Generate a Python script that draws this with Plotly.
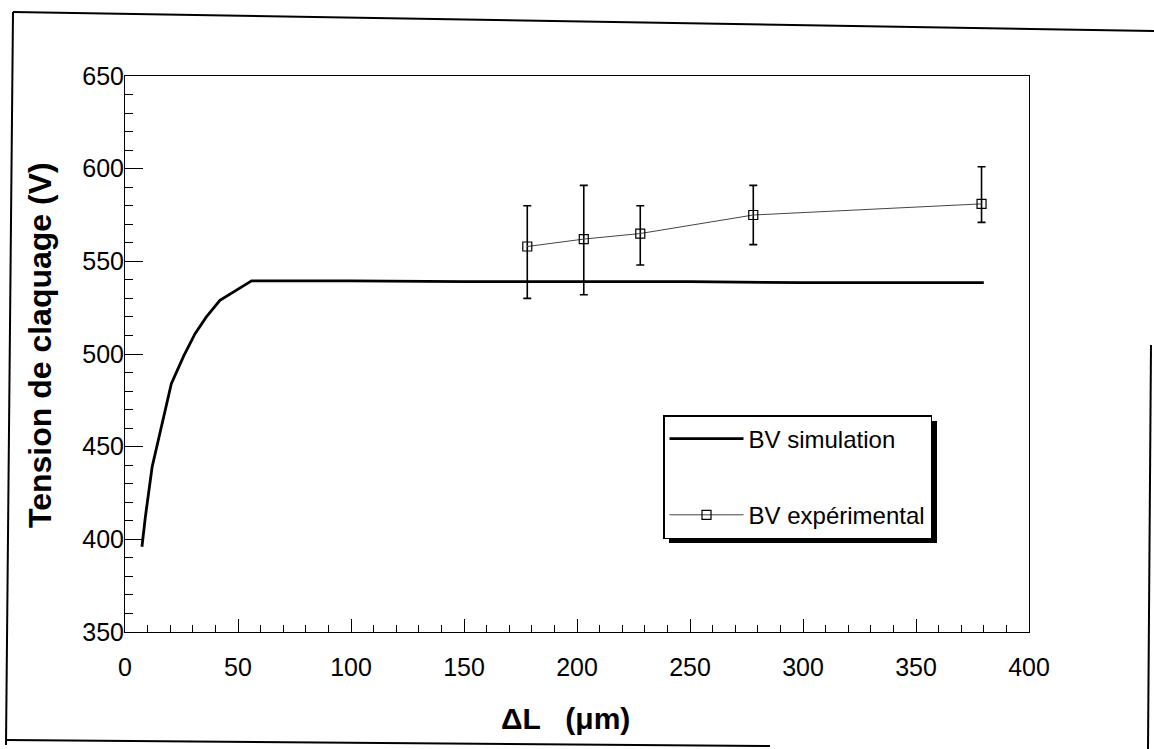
import plotly.graph_objects as go

# ---- data ----
sim_x = [7.5, 9, 12, 15.5, 18, 20.5, 26, 31, 36, 42, 56, 100, 150, 200, 250, 300, 350, 380]
sim_y = [396, 412, 439, 457, 471, 484, 499, 511, 520, 529, 539.5, 539.5, 539, 539, 539, 538.5, 538.5, 538.5]

exp_x = [178, 203, 228, 278, 379]
exp_y = [558, 562, 565, 575, 581]
exp_err_plus = [22, 29, 15, 16, 20]
exp_err_minus = [28, 30, 17, 16, 10]

x_ticks = [0, 50, 100, 150, 200, 250, 300, 350, 400]
y_ticks = [350, 400, 450, 500, 550, 600, 650]

x_title = "ΔL   (μm)"
y_title = "Tension de claquage (V)"

# ---- layout geometry ----
W, H = 1154, 749
L, R, T, B = 125, 125, 76, 117
PW, PH = W - L - R, H - T - B


def px(xp):
    return (xp - L) / PW


def py(yp):
    return (H - B - yp) / PH


FONT = "Liberation Sans, Arial, Helvetica, sans-serif"

fig = go.Figure()
fig.add_trace(go.Scatter(
    x=sim_x, y=sim_y, mode="lines", name="BV simulation",
    line=dict(color="black", width=2.8), legendgroup="sim",
))
fig.add_trace(go.Scatter(
    x=exp_x, y=exp_y, mode="lines+markers", name="BV expérimental",
    line=dict(color="#444444", width=1),
    marker=dict(symbol="square-open", size=9, color="black", line=dict(width=1.2)),
    error_y=dict(type="data", symmetric=False, array=exp_err_plus,
                 arrayminus=exp_err_minus, color="black", thickness=1.6, width=4),
    legendgroup="exp",
))

axis_common = dict(
    showgrid=False, zeroline=False, showline=True, linecolor="black",
    linewidth=1, mirror=True, ticks="inside", tickcolor="black",
    tickfont=dict(family=FONT, size=25, color="black"),
)

fig.update_xaxes(
    range=[0, 400], tickvals=x_ticks, ticktext=[str(v) for v in x_ticks],
    ticklen=13, tickwidth=1, ticklabelstandoff=13,
    minor=dict(dtick=10, ticks="inside", ticklen=7, tickwidth=1, tickcolor="black"),
    **axis_common,
)
fig.update_yaxes(
    range=[350, 650], tickvals=y_ticks, ticktext=[str(v) for v in y_ticks],
    ticklen=18, tickwidth=1, ticklabelstandoff=-5,
    minor=dict(dtick=10, ticks="inside", ticklen=8, tickwidth=1, tickcolor="black"),
    **axis_common,
)

# legend shadow (drawn below the white legend box)
shapes = [
    dict(type="rect", xref="paper", yref="paper",
         x0=px(669), x1=px(937), y0=py(421), y1=py(543),
         fillcolor="black", line=dict(width=0), layer="above"),
]
# outer figure frame (scanned page border)
frame_lines = [
    ((13, 12), (1154, 31)),
    ((13, 12), (6, 745)),
    ((6, 740), (770, 746)),
    ((1151, 345), (1148, 749)),
]
for (xa, ya), (xb, yb) in frame_lines:
    shapes.append(dict(type="line", xref="paper", yref="paper",
                       x0=px(xa), y0=py(ya), x1=px(xb), y1=py(yb),
                       line=dict(color="black", width=2)))

annotations = [
    dict(text=x_title, xref="paper", yref="paper", x=px(565), y=py(718),
         xanchor="center", yanchor="middle", showarrow=False,
         font=dict(family=FONT, size=30, color="black", weight="bold")),
    dict(text=y_title, xref="paper", yref="paper", x=px(40), y=py(345),
         xanchor="center", yanchor="middle", showarrow=False, textangle=-90,
         font=dict(family=FONT, size=32, color="black", weight="bold")),
]

fig.update_layout(
    width=W, height=H,
    margin=dict(l=L, r=R, t=T, b=B, autoexpand=False),
    paper_bgcolor="white", plot_bgcolor="white",
    font=dict(family=FONT, color="black"),
    showlegend=True,
    legend=dict(
        x=px(663), y=py(415), xanchor="left", yanchor="top",
        bgcolor="white", bordercolor="black", borderwidth=1.5,
        font=dict(family=FONT, size=24, color="black"),
        itemwidth=74, tracegroupgap=42,
    ),
    shapes=shapes,
    annotations=annotations,
)

fig.write_html("out.html", config={"displayModeBar": False},
               post_script="document.body.style.margin='0';")
